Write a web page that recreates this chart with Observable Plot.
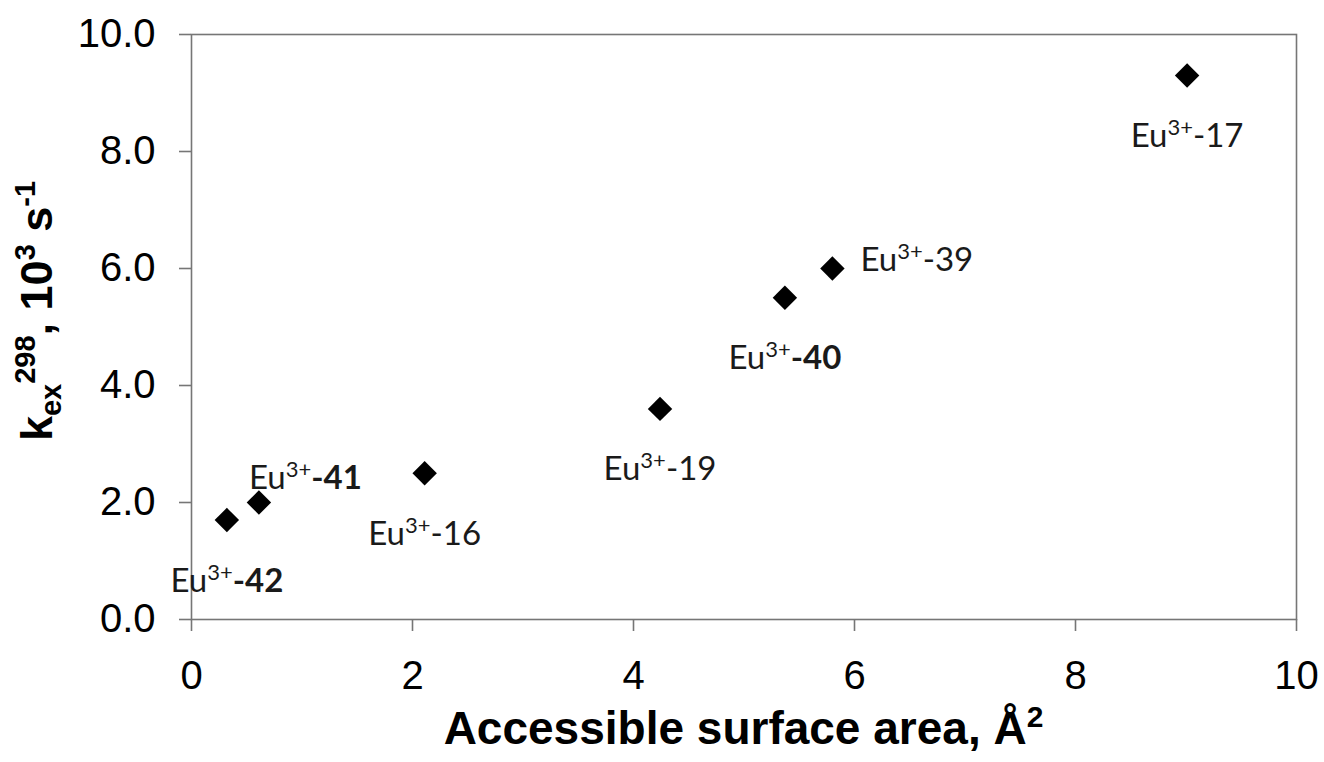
<!DOCTYPE html>
<html>
<head>
<meta charset="utf-8">
<script src="https://cdn.jsdelivr.net/npm/d3@7"></script>
<script src="https://cdn.jsdelivr.net/npm/@observablehq/plot@0.6"></script>
<style>
  html, body { margin: 0; padding: 0; background: #fff; }
</style>
</head>
<body>
<div id="chart"></div>
<script>
// ---- data ----
const compounds = ["42", "41", "16", "19", "40", "39", "17"];
const surfaceArea = [0.32, 0.61, 2.11, 4.24, 5.37, 5.80, 9.01];
const kex298 = [1.7, 2.0, 2.5, 3.6, 5.5, 6.0, 9.3];
const boldCompounds = ["42", "41", "40"];
const labelPrefix = "Eu";
const labelCharge = "3+";
const xTicks = [0, 2, 4, 6, 8, 10];
const yTicks = [0, 2, 4, 6, 8, 10];
const xTitleParts = [["Accessible surface area, Å", "normal"], ["2", "sup"]];
const yTitleParts = [["k", "normal"], ["ex", "sub"], ["298", "sup"], [", 10", "normal"], ["3", "sup"], [" s", "normal"], ["-1", "sup"]];

// label placement relative to each point
const labelPlacement = {"42": "below", "41": "above", "16": "below", "19": "below", "40": "below", "39": "right", "17": "below"};

const rows = compounds.map((c, i) => ({compound: c, area: surfaceArea[i], k: kex298[i], side: labelPlacement[c]}));

const W = 1324, H = 762;
const mL = 191, mR = 28, mT = 34, mB = 143;
const axisGray = "#767676";
const labelFont = "Lato, 'Open Sans', sans-serif";

const textOpts = {x: "area", y: "k", text: "compound", fontSize: 33, fontFamily: labelFont, fill: "#1a1a1a"};

const plot = Plot.plot({
  width: W, height: H,
  marginLeft: mL, marginRight: mR, marginTop: mT, marginBottom: mB,
  x: {domain: [0, 10]},
  y: {domain: [0, 10]},
  style: {fontFamily: "'Liberation Sans', Arial, sans-serif", background: "#fff", color: "#000"},
  marks: [
    Plot.frame({stroke: axisGray, strokeWidth: 1.6}),
    Plot.axisX({ticks: xTicks, tickSize: 12, tickPadding: 29, fontSize: 40, label: null, stroke: axisGray, strokeWidth: 1.6, fill: "#000"}),
    Plot.axisY({ticks: yTicks, tickSize: 12, tickPadding: 24, fontSize: 40, label: null, tickFormat: d3.format(".1f"), stroke: axisGray, strokeWidth: 1.6, fill: "#000"}),
    Plot.dot(rows, {x: "area", y: "k", symbol: "diamond2", r: 11, fill: "#000", stroke: "none"}),
    Plot.text(rows.filter(d => d.side === "below"), {...textOpts, dy: 61, textAnchor: "middle"}),
    Plot.text(rows.filter(d => d.side === "above"), {...textOpts, dx: -10, dy: -24, textAnchor: "start"}),
    Plot.text(rows.filter(d => d.side === "right"), {...textOpts, dx: 28, dy: -8, textAnchor: "start"})
  ]
});

document.getElementById("chart").appendChild(plot);
const svg = d3.select(plot);

// rich point labels: Eu^{3+}-N (N bold for some)
svg.selectAll('g[aria-label="text"] text').each(function() {
  const t = d3.select(this);
  const c = this.textContent;
  t.attr("dy", null).text(null);
  t.append("tspan").text(labelPrefix);
  t.append("tspan").attr("font-size", 22).attr("dy", -12).text(labelCharge);
  t.append("tspan").attr("dy", 12).attr("font-weight", boldCompounds.includes(c) ? "bold" : "normal").text("-" + c);
});

function richTitle(g, parts, size) {
  const supSize = Math.round(size * 0.65);
  let shift = 0;
  for (const [s, kind] of parts) {
    const target = kind === "sup" ? -Math.round(size * 0.38) : kind === "sub" ? Math.round(size * 0.2) : 0;
    const ts = g.append("tspan").attr("dy", target - shift).text(s);
    if (kind !== "normal") ts.attr("font-size", supSize);
    shift = target;
  }
}

// x title
const xt = svg.append("text")
  .attr("x", mL + (W - mL - mR) / 2).attr("y", H - mB + 125)
  .attr("text-anchor", "middle").attr("font-weight", "bold").attr("font-size", 46)
  .attr("font-family", "'Liberation Sans', Arial, sans-serif").attr("fill", "#000");
richTitle(xt, xTitleParts, 46);

// y title
const yt = svg.append("text")
  .attr("transform", `translate(52, 311) rotate(-90)`)
  .attr("text-anchor", "middle").attr("font-weight", "bold").attr("font-size", 45)
  .attr("font-family", "'Liberation Sans', Arial, sans-serif").attr("fill", "#000");
richTitle(yt, yTitleParts, 45);
</script>
</body>
</html>
